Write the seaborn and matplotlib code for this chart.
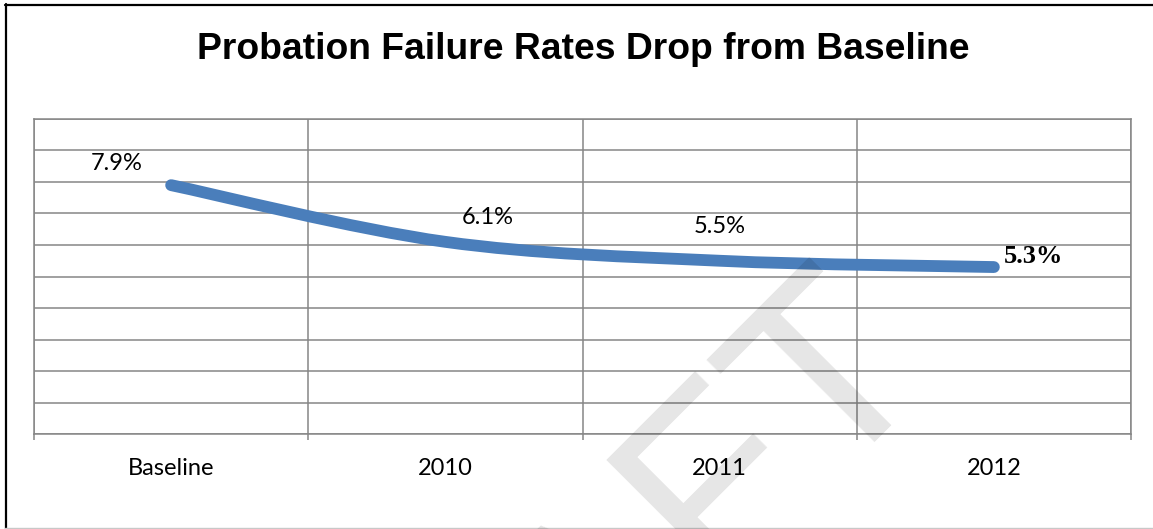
import numpy as np
import pandas as pd
import matplotlib
matplotlib.use("Agg")
import matplotlib.pyplot as plt
from matplotlib.path import Path
from matplotlib.patches import PathPatch
from matplotlib.lines import Line2D
from matplotlib.ticker import MultipleLocator, FixedLocator
import seaborn as sns

# ---- data ----
categories = ["Baseline", "2010", "2011", "2012"]
rates = [0.079, 0.061, 0.055, 0.053]
rate_labels = ["7.9%", "6.1%", "5.5%", "5.3%"]
title = "Probation Failure Rates Drop from Baseline"
watermark = "DRAFT"

# ---- style ----
sns.set_theme(style="white")
plt.rcParams["font.family"] = ["Lato", "DejaVu Sans"]

W, H = 1153, 529
fig = plt.figure(figsize=(W / 100, H / 100), dpi=100)
fig.patch.set_facecolor("white")
ax = fig.add_axes([34 / W, (H - 434) / H, (1131 - 34) / W, (434 - 119) / H])

df = pd.DataFrame({"category": categories, "rate": rates})
sns.lineplot(data=df, x="category", y="rate", ax=ax, color="#4A7EBB", linewidth=8.5)

# smooth the seaborn line (Excel "smoothed line") using Bezier segments in data coords
line = ax.lines[0]
xd = np.asarray(line.get_xdata(), dtype=float)
yd = np.asarray(line.get_ydata(), dtype=float)
line.remove()
P = np.column_stack([xd, yd])
n = len(P)
verts = [P[0]]
codes = [Path.MOVETO]
for i in range(n - 1):
    p0 = P[max(i - 1, 0)]
    p1 = P[i]
    p2 = P[i + 1]
    p3 = P[min(i + 2, n - 1)]
    c1 = p1 + (p2 - p0) / 6.0
    c2 = p2 - (p3 - p1) / 6.0
    verts += [c1, c2, p2]
    codes += [Path.CURVE4] * 3
patch = PathPatch(Path(verts, codes), fill=False, edgecolor="#4A7EBB",
                  linewidth=8.5, capstyle="round", joinstyle="round", zorder=3)
ax.add_patch(patch)

grid_color = "#868686"
ax.set_xlim(-0.5, 3.5)
ax.set_ylim(0, 0.1)
ax.yaxis.set_major_locator(MultipleLocator(0.01))
ax.tick_params(axis="y", left=False, labelleft=False)
ax.grid(axis="y", which="major", color=grid_color, linewidth=1.1)
ax.xaxis.set_major_locator(FixedLocator(range(len(categories))))
ax.set_xticklabels(categories)
ax.xaxis.set_minor_locator(FixedLocator([-0.5, 0.5, 1.5, 2.5, 3.5]))
ax.grid(axis="x", which="major", visible=False)
ax.grid(axis="x", which="minor", color=grid_color, linewidth=1.1)
ax.tick_params(axis="x", which="minor", bottom=True, length=4.5, width=1.1,
               color=grid_color, direction="out")
ax.tick_params(axis="x", which="major", bottom=False, length=0, pad=17,
               labelsize=17, labelcolor="black")
ax.set_xlabel("")
ax.set_ylabel("")
for s in ax.spines.values():
    s.set_visible(True)
    s.set_color(grid_color)
    s.set_linewidth(1.1)
ax.set_axisbelow(True)

# data labels
label_offsets = [(-54, 22), (42, 24), (0, 34), (40, 11)]
for i, (lbl, off) in enumerate(zip(rate_labels, label_offsets)):
    if i == len(rate_labels) - 1:
        kw = dict(fontsize=19, fontweight="bold", family=["Liberation Serif"])
    else:
        kw = dict(fontsize=17)
    ax.annotate(lbl, (i, rates[i]), xytext=off, textcoords="offset pixels",
                ha="center", va="center", color="black", **kw)

# title
fig.text(583 / W, 1 - 59 / H, title, ha="center", va="baseline", fontsize=26.8,
         fontweight="bold", family=["Liberation Sans"], color="black")

# frame around the chart (left and top dark, bottom light; no right edge visible)
fig.add_artist(Line2D([5.5 / W, 5.5 / W], [0, 1 - 4 / H], transform=fig.transFigure,
                      color="black", linewidth=1.6))
fig.add_artist(Line2D([5 / W, 1.0], [1 - 4.5 / H, 1 - 4.5 / H], transform=fig.transFigure,
                      color="black", linewidth=1.6))
fig.add_artist(Line2D([5 / W, 1.0], [1.5 / H, 1.5 / H], transform=fig.transFigure,
                      color="#C8C8C8", linewidth=1.0))

# watermark
fig.text(933 / W, 1 - 362 / H, watermark, rotation=45, rotation_mode="anchor",
         ha="right", va="baseline", fontsize=185, fontweight="normal",
         family=["Liberation Sans"], color="black", alpha=0.1, zorder=10)

fig.savefig("out.png", dpi=100)
